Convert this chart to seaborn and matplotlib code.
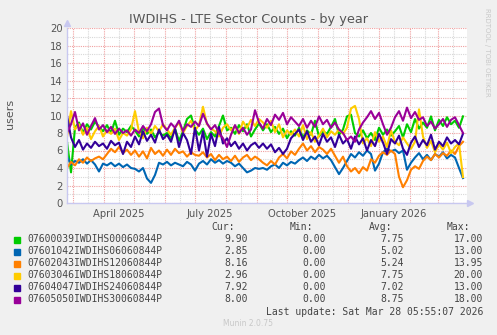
import numpy as np
import pandas as pd
import matplotlib
matplotlib.use('Agg')
import matplotlib.pyplot as plt
import matplotlib.dates as mdates
from matplotlib.ticker import MultipleLocator, FuncFormatter
import seaborn as sns

# Data, one point every 4 days from 2025-02-23
series_names = ['07600039IWDIHS00060844P', '07601042IWDIHS06060844P', '07602043IWDIHS12060844P',
                '07603046IWDIHS18060844P', '07604047IWDIHS24060844P', '07605050IWDIHS30060844P']
colors = ['#00CC00', '#0066B3', '#FF8000', '#FFCC00', '#330099', '#990099']

green = [7.0, 3.5, 8.6, 9.2, 8.0, 9.0, 8.4, 9.3, 8.7,
         8.2, 8.9, 8.0, 9.4, 7.8, 8.5, 8.1, 8.8,
         8.3, 7.6, 8.6, 7.9, 8.4, 7.5, 8.1, 7.7,
         8.0, 7.4, 8.5, 7.1, 8.2, 9.6, 10.0, 8.4,
         7.8, 8.5, 7.3, 8.1, 7.6, 8.8, 10.0, 8.3,
         8.6, 7.9, 8.9, 8.2, 9.0, 7.6, 8.4, 9.1,
         8.3, 9.0, 8.1, 8.7, 7.9, 8.5, 7.4, 8.2,
         7.7, 8.6, 7.5, 8.3, 7.8, 9.4, 7.6, 8.2,
         7.9, 8.7, 9.6, 7.8, 8.4, 9.9, 10.1, 8.0,
         7.6, 8.3, 7.4, 8.0, 7.2, 8.6, 7.8, 8.4,
         7.7, 8.2, 8.8, 7.5, 9.0, 8.1, 9.6, 8.5,
         9.2, 8.6, 9.9, 8.3, 9.5, 8.8, 9.8, 9.0,
         9.4, 8.6, 9.9]
blue = [5.3, 4.4, 4.8, 4.6, 5.0, 4.5, 4.9, 4.4, 3.6,
        4.5, 4.3, 4.6, 4.2, 4.5, 4.1, 4.4, 4.0,
        3.9, 3.6, 4.0, 2.8, 2.3, 3.2, 4.6, 4.4,
        4.7, 4.3, 4.6, 4.4, 4.2, 4.7, 4.4, 3.7,
        4.5, 4.8, 4.4, 5.0, 4.6, 4.9, 4.5, 4.8,
        4.6, 4.2, 4.5, 4.0, 3.5, 3.7, 4.0, 3.9,
        4.0, 3.8, 4.2, 4.4, 4.0, 4.6, 4.3, 4.7,
        4.5, 4.9, 5.2, 4.8, 5.3, 5.0, 5.5, 5.1,
        5.4, 4.9, 4.1, 3.3, 4.0, 4.8, 5.6, 5.2,
        5.8, 5.4, 6.0, 5.6, 3.7, 4.5, 5.8, 6.2,
        5.9, 6.1, 5.7, 6.0, 3.8, 4.6, 5.2, 5.7,
        5.0, 5.5, 4.9, 5.6, 5.3, 5.8, 5.1, 5.5,
        5.2, 4.0, 2.85]
orange = [4.0, 4.7, 4.3, 5.0, 4.6, 5.2, 4.8, 5.1, 5.3,
          5.0, 5.6, 6.2, 5.8, 6.4, 5.7, 6.1, 5.5,
          6.0, 5.3, 5.9, 5.1, 6.3, 5.6, 6.0, 5.4,
          6.1, 5.5, 6.2, 5.7, 5.9, 5.3, 5.8, 5.5,
          5.4, 5.8, 5.2, 5.6, 4.9, 5.5, 5.0, 5.3,
          4.8, 5.4, 4.7, 5.2, 5.5, 4.9, 5.3, 5.0,
          4.6, 4.3, 4.8, 4.4, 5.2, 5.6, 5.1, 5.9,
          5.5, 6.2, 6.8, 6.0, 6.5, 5.8, 6.4, 6.1,
          5.6, 6.2, 5.4, 4.6, 5.3, 4.2, 3.6, 4.0,
          3.4, 4.1, 3.7, 5.0, 4.6, 5.4, 5.8, 5.5,
          6.0, 5.6, 3.0, 1.8, 2.6, 3.8, 4.2, 3.9,
          4.8, 5.3, 4.9, 5.6, 5.2, 5.7, 5.4, 6.0,
          5.6, 6.5, 7.0]
yellow = [7.5, 10.5, 8.4, 9.0, 7.8, 8.6, 7.3, 8.2, 8.8,
          7.6, 8.3, 7.9, 8.5, 7.2, 8.0, 7.7, 8.4,
          10.5, 8.1, 7.4, 8.6, 7.9, 8.8, 8.2, 9.0,
          8.4, 7.8, 8.6, 9.2, 8.0, 8.8, 9.4, 8.3,
          8.9, 11.0, 9.0, 8.5, 8.2, 7.6, 8.6, 9.0,
          8.3, 8.8, 7.9, 9.3, 8.6, 9.5, 8.8, 9.6,
          9.2, 8.6, 9.4, 8.1, 9.0, 7.5, 8.3, 7.8,
          8.4, 7.6, 8.9, 7.3, 8.1, 7.0, 7.7, 8.5,
          7.5, 8.2, 7.8, 8.4, 7.9, 8.6, 10.8, 11.1,
          9.6, 6.8, 7.4, 6.5, 8.1, 7.0, 7.6, 6.4,
          8.3, 7.0, 6.6, 7.5, 6.8, 6.2, 7.0, 10.7,
          7.6, 6.3, 7.1, 5.8, 6.7, 6.1, 6.9, 5.7,
          6.4, 6.8, 2.96]
indigo = [10.0, 7.5, 6.4, 7.2, 6.1, 6.8, 6.3, 7.0, 6.5,
          6.8, 6.2, 7.1, 6.6, 6.9, 5.6, 7.0, 6.4,
          7.6, 6.7, 8.2, 7.1, 7.8, 6.9, 8.4, 7.3,
          7.8, 7.0, 8.5, 6.4, 8.0, 7.2, 5.6, 8.6,
          6.0, 8.2, 5.3, 7.9, 6.5, 8.7, 6.8, 7.4,
          6.5, 7.0, 6.2, 6.8, 6.0, 6.6, 6.9, 6.3,
          6.8, 6.2, 6.7, 5.8, 6.3, 5.6, 6.2, 7.4,
          7.9, 8.4, 7.2, 8.2, 7.0, 7.6, 6.6, 7.9,
          7.0, 7.5, 6.4, 7.8, 6.8, 7.3, 6.2, 7.6,
          6.7, 7.4, 6.0, 7.2, 6.5, 7.9, 6.9, 5.6,
          7.3, 6.8, 7.7, 6.2, 5.5, 6.9, 7.6, 6.4,
          7.2, 6.6, 7.8, 6.1, 7.0, 6.5, 7.5, 6.8,
          7.2, 6.7, 7.92]
purple = [8.0, 9.0, 10.4, 8.3, 9.1, 7.8, 8.8, 9.7, 8.4,
          8.9, 8.1, 8.7, 7.9, 8.5, 8.0, 8.3, 7.7,
          8.4, 8.0, 8.8, 8.2, 9.0, 10.4, 10.8, 8.9,
          8.3, 9.1, 8.6, 9.4, 8.2, 9.0, 8.7, 9.3,
          8.8, 10.2, 9.1, 8.4, 8.9, 8.0, 7.4, 6.4,
          7.8, 8.9, 8.0, 8.6, 7.8, 8.4, 10.6, 9.2,
          8.5, 9.6, 8.9, 10.1, 9.5, 10.3, 9.0, 9.8,
          9.3, 8.8, 9.6, 8.6, 9.4, 8.7, 9.9, 9.0,
          9.5, 8.6, 9.2, 8.4, 8.0, 7.2, 7.6, 7.0,
          8.4, 9.2, 9.8, 10.5, 9.6, 10.3, 9.0, 7.8,
          8.6, 9.8, 10.5, 9.4, 10.9, 9.7, 10.4, 9.5,
          9.8, 8.8, 9.3, 8.5, 9.0, 9.6, 8.7, 9.5,
          9.8, 8.9, 8.0]

cur = ['9.90', '2.85', '8.16', '2.96', '7.92', '8.00']
mins = ['0.00', '0.00', '0.00', '0.00', '0.00', '0.00']
avg = ['7.75', '5.02', '5.24', '7.75', '7.02', '8.75']
maxs = ['17.00', '13.00', '13.95', '20.00', '13.00', '18.00']

dates = pd.date_range('2025-02-23', periods=len(green), freq='4D')
df = pd.concat([pd.DataFrame({'date': dates, 'value': v, 'series': n})
                for n, v in zip(series_names, [green, blue, orange, yellow, indigo, purple])])

W, H = 497, 335
fig = plt.figure(figsize=(W / 100, H / 100), dpi=100, facecolor='#F0F0F0')
ax = fig.add_axes([67 / W, 1 - 203 / H, 400 / W, 175 / H])
ax.set_facecolor('white')

sns.lineplot(data=df, x='date', y='value', hue='series', hue_order=series_names,
             palette=colors, linewidth=1.5, legend=False, sort=False, ax=ax)

ax.set_xlim(pd.Timestamp('2025-02-23'), pd.Timestamp('2026-03-30'))
ax.set_ylim(0, 20)

# grid like rrdtool
ax.yaxis.set_major_locator(MultipleLocator(2))
ax.yaxis.set_minor_locator(MultipleLocator(1))
ax.xaxis.set_major_locator(mdates.MonthLocator(bymonthday=1))
ax.xaxis.set_minor_locator(mdates.MonthLocator(bymonthday=16))
ax.xaxis.set_major_formatter(FuncFormatter(lambda x, p: ''))
ax.xaxis.set_minor_formatter(FuncFormatter(
    lambda x, p: mdates.num2date(x).strftime('%B %Y') if mdates.num2date(x).month in (1, 4, 7, 10) else ''))
ax.grid(which='major', color='#F0A0A0', linestyle=(0, (1, 1)), linewidth=0.8)
ax.grid(which='minor', color='#D8D8D8', linestyle=(0, (1, 1)), linewidth=0.8)
ax.set_axisbelow(True)
ax.tick_params(axis='both', which='both', length=0, labelsize=7.2, labelcolor='#555555', pad=3)
ax.tick_params(axis='x', which='minor', pad=4)
ax.set_xlabel('')
ax.set_ylabel('')
fig.text(10 / W, 1 - 114 / H, 'users', rotation=90, ha='center', va='center', fontsize=8, color='#555555')

for s in ['top', 'right']:
    ax.spines[s].set_visible(False)
for s in ['left', 'bottom']:
    ax.spines[s].set_color('#C8C8F0')
    ax.spines[s].set_linewidth(1)
ax.plot(0, 1.03, '^', color='#C8C8F0', markersize=4, transform=ax.transAxes, clip_on=False)
ax.plot(1.008, 0, '>', color='#C8C8F0', markersize=4, transform=ax.transAxes, clip_on=False)

fig.text(249 / W, 1 - 19 / H, 'IWDIHS - LTE Sector Counts - by year', ha='center', va='center',
         fontsize=9.3, color='#555555')
fig.text(487 / W, 1 - 52 / H, 'RRDTOOL / TOBI OETIKER', rotation=270, ha='center', va='center',
         fontsize=5, color='#C8C8C8')

# legend block
mono = dict(family='DejaVu Sans Mono', fontsize=7, color='#444444')
fig.text(235 / W, 1 - 227 / H, 'Cur:', ha='right', va='center', **mono)
fig.text(313 / W, 1 - 227 / H, 'Min:', ha='right', va='center', **mono)
fig.text(392 / W, 1 - 227 / H, 'Avg:', ha='right', va='center', **mono)
fig.text(470 / W, 1 - 227 / H, 'Max:', ha='right', va='center', **mono)
for k, name in enumerate(series_names):
    yy = 1 - (239.5 + 12 * k) / H
    fig.patches.append(plt.Rectangle((14 / W, yy - 3 / H), 6 / W, 6 / H, color=colors[k],
                                     transform=fig.transFigure, figure=fig))
    fig.text(27 / W, yy, name, ha='left', va='center', **mono)
    fig.text(248 / W, yy, cur[k], ha='right', va='center', **mono)
    fig.text(326 / W, yy, mins[k], ha='right', va='center', **mono)
    fig.text(404 / W, yy, avg[k], ha='right', va='center', **mono)
    fig.text(483 / W, yy, maxs[k], ha='right', va='center', **mono)
fig.text(483 / W, 1 - 312 / H, 'Last update: Sat Mar 28 05:55:07 2026', ha='right', va='center', **mono)
fig.text(248 / W, 1 - 324 / H, 'Munin 2.0.75', ha='center', va='center', fontsize=5.5, color='#C8C8C8')

fig.savefig('out.png', dpi=100, facecolor=fig.get_facecolor())
